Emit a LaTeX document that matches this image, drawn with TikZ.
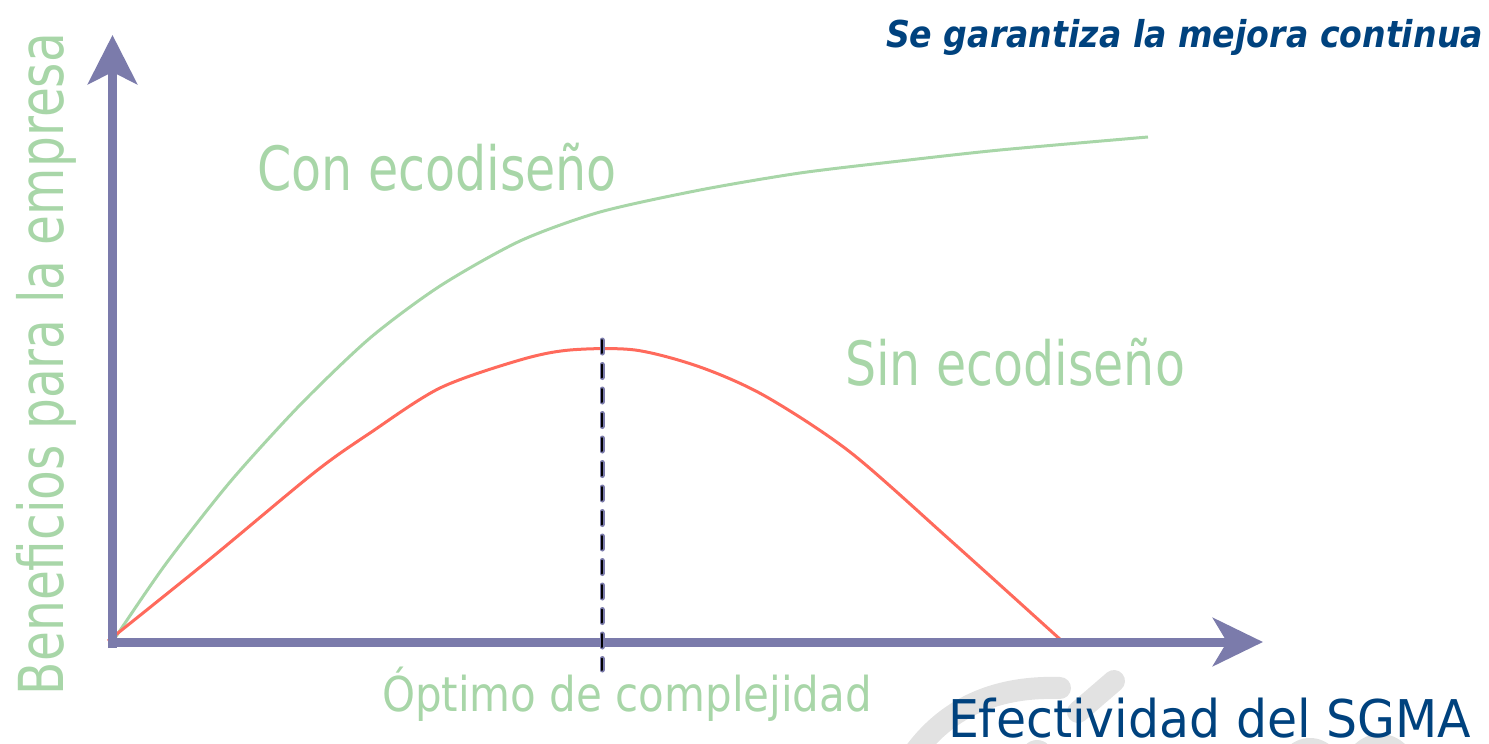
\documentclass[tikz,border=0pt]{standalone}
\usepackage{fontspec}
\setmainfont{DejaVu Sans}
\usepackage{graphicx}
\usetikzlibrary{arrows.meta}
\definecolor{axisc}{HTML}{7B7BAB}
\definecolor{greenc}{HTML}{A8D6A8}
\definecolor{redc}{HTML}{FF6A5C}
\definecolor{navyc}{HTML}{00427E}
\definecolor{wmc}{HTML}{E2E2E2}
\newsavebox\fitbox
\newcommand\fitw[2]{\sbox\fitbox{#2}\pgfmathsetmacro\fitr{#1/\the\wd\fitbox}\scalebox{\fitr}[1]{\usebox\fitbox}}
\tikzset{
  lbl/.style={inner sep=0pt, outer sep=0pt},
  axisline/.style={draw=axisc, line width=9pt},
  curvegreen/.style={draw=greenc, line width=3pt, line join=round},
  curvered/.style={draw=redc, line width=3pt, line join=round},
  wmark/.style={draw=wmc, line width=22pt, line cap=round},
}
\begin{document}
\begin{tikzpicture}[x=1pt,y=-1pt]
\useasboundingbox (0,0) rectangle (1489,744);
% watermark
\draw[wmark] (915,752) .. controls (950,705) and (1000,686) .. (1060,688);
\draw[wmark] (1078,712) -- (1114,681);
\fill[wmc] (1037,756) circle (16);
\fill[wmc] (1310,770) circle (32);
\fill[wmc] (1380,770) circle (36);
% curves
\draw[curvegreen] plot[smooth, tension=0.45] coordinates {(113,641) (165,565) (230,482) (300,405) (370,338) (440,286) (520,241) (600,212) (700,190) (800,173) (900,161) (1000,150) (1148,137)};
\draw[curvered] plot[smooth, tension=0.5] coordinates {(108,641) (210,559) (315,472) (370,433) (440,388) (520,360) (570,350) (635,350) (700,367) (765,396) (850,452) (950,540) (1062,641)};
% axes
\coordinate (o) at (112.5,648);
\coordinate (ytip) at (112.5,35);
\coordinate (xo) at (108,642);
\coordinate (xtip) at (1263,642);
\draw[axisline, -{Stealth[length=49pt,width=49pt,inset=12pt]}] (o) -- (ytip);
\draw[axisline, -{Stealth[length=50pt,width=48pt,inset=14pt]}] (xo) -- (xtip);
% optimum dashed line
\coordinate (dtop) at (602,340);
\coordinate (dbot) at (602,670);
\draw[draw=axisc, line width=5pt, line cap=round, dash pattern=on 13pt off 11.5pt] (dtop) -- (dbot);
\draw[draw=black, line width=2pt, line cap=round, dash pattern=on 13pt off 11.5pt] (dtop) -- (dbot);
% texts
\node[lbl, anchor=base east, text=navyc, font=\bfseries\itshape\fontsize{37}{40}\selectfont] (title) at (1483,47) {\fitw{597}{Se garantiza la mejora continua}};
\node[lbl, anchor=base west, text=greenc, font=\fontsize{61}{64}\selectfont] (con) at (257,190) {\fitw{360}{Con ecodiseño}};
\node[lbl, anchor=base west, text=greenc, font=\fontsize{61}{64}\selectfont] (sin) at (845,385) {\fitw{340}{Sin ecodiseño}};
\node[lbl, anchor=base west, text=greenc, font=\fontsize{48}{52}\selectfont] (opt) at (382,711) {\fitw{490}{Óptimo de complejidad}};
\node[lbl, anchor=base west, text=navyc, font=\fontsize{52}{56}\selectfont] (efe) at (948,737) {\fitw{523}{Efectividad del SGMA}};
\node[lbl, anchor=base west, rotate=90, text=greenc, font=\fontsize{62}{66}\selectfont] (ben) at (63,695) {\fitw{662}{Beneficios para la empresa}};
\end{tikzpicture}
\end{document}
